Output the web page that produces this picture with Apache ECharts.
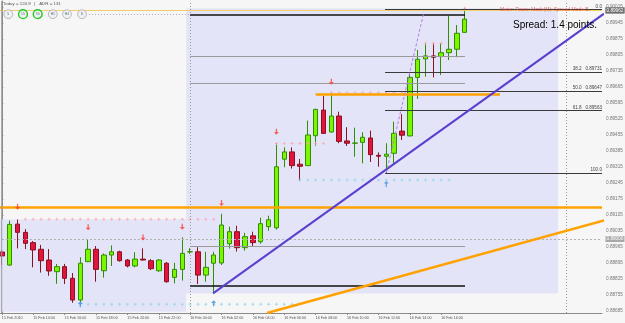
<!DOCTYPE html>
<html><head><meta charset="utf-8">
<script src="https://cdn.jsdelivr.net/npm/echarts@6/dist/echarts.min.js"></script>
<style>html,body{margin:0;padding:0;background:#f6f6f6}#c{width:625px;height:323px}</style>
</head><body><div id="c"></div>
<script>
// ---- data ----
const tickLabels = ["15 Feb 2010","15 Feb 14:00","15 Feb 16:00","15 Feb 18:00","15 Feb 20:00","15 Feb 22:00","16 Feb 00:00","16 Feb 02:00","16 Feb 04:00","16 Feb 06:00","16 Feb 08:00","16 Feb 10:00","16 Feb 12:00","16 Feb 14:00","16 Feb 16:00"];
const priceTicks = [0.88685,0.88755,0.88825,0.88895,0.88965,0.89035,0.89105,0.89175,0.89245,0.89315,0.89385,0.89455,0.89525,0.89595,0.89665,0.89735,0.89805,0.89875,0.89945,0.90015];
const slotCount = 77; // bars + chart shift
const opens  = [0.88943,0.88886,0.89065,0.89029,0.88984,0.88955,0.88908,0.88857,0.88879,0.88828,0.88733,0.88901,0.88955,0.88861,0.88930,0.88944,0.88908,0.88882,0.88912,0.88905,0.88861,0.88894,0.88832,0.88867,0.88944,0.88944,0.88842,0.88894,0.88895,0.88979,0.89032,0.88962,0.89014,0.88988,0.89054,0.89049,0.89349,0.89381,0.89327,0.89321,0.89452,0.89564,0.89468,0.89538,0.89429,0.89419,0.89423,0.89442,0.89366,0.89362,0.89375,0.89472,0.89451,0.89707,0.89788,0.89801,0.89798,0.89815,0.89830,0.89904];
const closes = [0.88926,0.89064,0.89029,0.88981,0.88952,0.88905,0.88860,0.88879,0.88828,0.88733,0.88894,0.88955,0.88867,0.88930,0.88944,0.88905,0.88882,0.88912,0.88908,0.88870,0.88908,0.88813,0.88867,0.88937,0.88944,0.88842,0.88876,0.88930,0.89061,0.89032,0.88962,0.89010,0.88984,0.89067,0.89084,0.89316,0.89381,0.89321,0.89318,0.89455,0.89567,0.89462,0.89538,0.89427,0.89419,0.89420,0.89445,0.89369,0.89362,0.89371,0.89462,0.89454,0.89707,0.89786,0.89801,0.89795,0.89815,0.89830,0.89900,0.89962];
const lows   = [0.88886,0.88882,0.88959,0.88956,0.88876,0.88853,0.88839,0.88804,0.88803,0.88721,0.88724,0.88899,0.88813,0.88831,0.88882,0.88901,0.88876,0.88876,0.88906,0.88864,0.88856,0.88809,0.88806,0.88818,0.88935,0.88803,0.88813,0.88762,0.88886,0.88958,0.88945,0.88949,0.88966,0.88979,0.89036,0.89041,0.89314,0.89308,0.89255,0.89319,0.89408,0.89460,0.89466,0.89419,0.89407,0.89360,0.89331,0.89337,0.89316,0.89289,0.89324,0.89433,0.89449,0.89613,0.89710,0.89707,0.89717,0.89783,0.89795,0.89903];
const highs  = [0.88952,0.89080,0.89085,0.89043,0.88991,0.88974,0.88956,0.88891,0.88891,0.88851,0.88920,0.89000,0.88969,0.88937,0.88972,0.88949,0.88912,0.88942,0.88959,0.88912,0.88912,0.88899,0.88896,0.89007,0.88960,0.88964,0.88944,0.88944,0.89110,0.89054,0.89058,0.89027,0.89032,0.89093,0.89102,0.89419,0.89401,0.89401,0.89350,0.89518,0.89570,0.89626,0.89640,0.89557,0.89489,0.89487,0.89467,0.89474,0.89379,0.89419,0.89513,0.89546,0.89725,0.89827,0.89856,0.89856,0.89856,0.89976,0.89936,0.90009];

const dayRanges = [ {from:-0.5, to:23.5, low:0.88682, high:0.89086}, {from:23.5, to:70.9, low:0.88762, high:0.90009} ];
const roundLevels = [0.89000, 0.89500, 0.90000];
const bidPrice = 0.89962;
const periodSeparators = [24, 72];
const blackLevels = [ {p:0.89980, from:24, to:59.04}, {p:0.88794, from:24, to:59.04} ];
const grayLevels  = [ {p:0.89801, from:24, to:59.04}, {p:0.89683, from:24, to:59.04}, {p:0.88969, from:24, to:59.04} ];
const dottedLevels = [ {p:0.89984, from:11.1, to:24} ];
const orangeLevels = [ {p:0.89141, from:-0.5, to:76.5}, {p:0.89634, from:40, to:63.5} ];
const fib = { high:0.90005, low:0.89289, from:48.85, to:76.5, ratios:[0, 38.2, 50, 61.8, 100] };
const purpleTrend = [[26.92, 0.88762], [76.76, 0.89986]];
const orangeTrend = [[33.8, 0.88676], [76.76, 0.89081]];
const violetDash  = [[49, 0.89289], [53.8, 0.89993]];
const resistDots = [ {level:0.89086, from:3, to:27}, {level:0.89418, from:35, to:41}, {level:0.89640, from:42, to:51}, {level:0.89856, from:54, to:56}, {level:0.90009, from:59, to:59} ];
const supportDots = [ {level:0.88714, from:10, to:37}, {level:0.89258, from:38, to:57} ];
const downArrows = [[2,0.89141],[11,0.89051],[18,0.89007],[23,0.89054],[28,0.89157],[35,0.89469],[42,0.89688]];
const upArrows = [[10,0.88714],[27,0.88719],[49,0.89241]];

// ---- build ----
const cats = Array.from({length:slotCount}, (_, i) => String(i));
const candles = opens.map((o, i) => [o, closes[i], lows[i], highs[i]]);
const isTick = i => i % 4 === 0 && i / 4 < tickLabels.length;
const FONT = 'Liberation Sans';
const dots = arr => { const out = []; arr.forEach(d => { for (let i = d.from; i <= d.to; i++) out.push([i, d.level]); }); return out; };
const seg = (l, style, label) => [ {coord:[l.from, l.p], lineStyle:style, label:label || {show:false}}, {coord:[l.to, l.p]} ];

const fibLines = fib.ratios.map(r => {
  const p = fib.high - r / 100 * (fib.high - fib.low);
  const txt = (r === 0 || r === 100) ? r.toFixed(1) : r.toFixed(1) + '   ' + p.toFixed(5);
  return seg({p, from:fib.from, to:fib.to}, {color:'#3a3a3a', width:1, type:'solid'},
    {show:true, position:'insideEndTop', formatter:txt, fontSize:4.6, color:'#444', fontFamily:FONT, distance:[0,0.5]});
});

const levelMarks = [].concat(
  blackLevels.map(l => seg(l, {color:'#111', width:1.6, type:'solid'})),
  grayLevels.map(l => seg(l, {color:'#9a9a9a', width:1, type:'solid'})),
  dottedLevels.map(l => seg(l, {color:'#aaa', width:1, type:[1,2]})),
  orangeLevels.map(l => seg(l, {color:'#ffa200', width:2.5, type:'solid'})),
  fibLines
);

const chart = echarts.init(document.getElementById('c'), null, {renderer:'canvas'});
const option = {
  animation:false,
  backgroundColor:'#f6f6f6',
  grid:{left:-2.07, top:1, width:604.07, height:312, containLabel:false, outerBoundsMode:'none'},
  xAxis:[
    {type:'category', data:cats, boundaryGap:true,
     axisLine:{lineStyle:{color:'#8a8a8a', width:1}},
     axisTick:{show:true, length:2, interval:(i)=>isTick(i), alignWithLabel:true, lineStyle:{color:'#8a8a8a'}},
     axisLabel:{interval:0, formatter:(v, i)=> isTick(i) ? tickLabels[i/4] : '', align:'left', fontSize:3.7, color:'#555', margin:2.5, fontFamily:FONT},
     splitLine:{show:false}},
    {type:'value', min:-0.5, max:slotCount-0.5, show:false}
  ],
  yAxis:{type:'value', position:'right', offset:2, min:0.886762, max:0.900412,
    axisLine:{show:true, lineStyle:{color:'#8a8a8a'}},
    axisTick:{show:true, length:1.5, customValues:priceTicks, lineStyle:{color:'#8a8a8a'}},
    axisLabel:{customValues:priceTicks, formatter:v=>v.toFixed(5), fontSize:4.7, color:'#777', margin:2, fontFamily:FONT},
    splitLine:{show:false}},
  graphic:[
    {type:'line', shape:{x1:1.7, y1:1, x2:1.7, y2:313}, style:{stroke:'#9a9a9a', lineWidth:1}, z:100},
    {type:'text', x:3, y:2.2, style:{text:'Today = 124.9   |   ADR = 131', font:'4.4px '+FONT, fill:'#555'}, z:100},
    ...[['5',8.3,'#aaa'],['15',23,'#1ec81e'],['30',37.7,'#1ec81e'],['H1',52.8,'#aaa'],['H4',67,'#aaa'],['D',82,'#aaa']].flatMap(b=>[
      {type:'circle', shape:{cx:b[1], cy:14.2, r:4.4}, style:{fill:'#f1f1f1', stroke:b[2], lineWidth:b[2]==='#aaa'?0.8:1.4}, z:100},
      {type:'text', x:b[1], y:14.4, style:{text:b[0], font:'3.4px '+FONT, fill:'#4a6a8a', align:'center', verticalAlign:'middle'}, z:101}
    ]),
    {type:'text', x:513, y:20.5, style:{text:'Spread: 1.4 points.', font:'10px '+FONT, fill:'#000'}, z:100},
    {type:'text', x:500, y:7.3, style:{text:'Meter: Pause Mode(M): Spread Mode B..', font:'5px '+FONT, fill:'rgba(220,60,60,0.75)'}, z:100}
  ],
  series:[
    {type:'line', xAxisIndex:1, data:[], z:1, silent:true,
     markArea:{silent:true, itemStyle:{color:'#e4e4f8'},
       data: dayRanges.map(r=>[{coord:[r.from, r.high]},{coord:[r.to, r.low]}])}},
    {type:'line', xAxisIndex:1, data:[], z:2, silent:true,
     markLine:{symbol:'none', silent:true, animation:false,
       data: [].concat(
         periodSeparators.map(x=>({xAxis:x, lineStyle:{color:'#999', width:1, type:[1,2]}, label:{show:false}})),
         roundLevels.map(p=>({yAxis:p, lineStyle:{color:'#b0b0b0', width:1, type:[2,2]},
           label:{show:true, position:'end', formatter:p.toFixed(5), fontSize:4.7, color:'#fff', backgroundColor:'#a8a8a8', padding:[0.5,1], distance:3.5, fontFamily:FONT}})),
         [{yAxis:bidPrice, lineStyle:{color:'#f2cf6a', width:1, type:'solid'},
           label:{show:true, position:'end', formatter:bidPrice.toFixed(5), fontSize:4.7, color:'#fff', backgroundColor:'#6e6e6e', padding:[0.5,1], distance:3.5, fontFamily:FONT}}],
         levelMarks)}},
    {type:'candlestick', xAxisIndex:0, data:candles, z:3, barWidth:5,
     itemStyle:{color:'#7cf500', color0:'#e0143c', borderColor:'#2f8f00', borderColor0:'#8b1020', borderWidth:1}},
    {type:'scatter', xAxisIndex:1, data:dots(resistDots), z:4, silent:true,
     symbol:'path://M1,0 L2,0 L2,1 L3,1 L3,2 L2,2 L2,3 L1,3 L1,2 L0,2 L0,1 L1,1 Z', symbolSize:3, itemStyle:{color:'#ffa3ad'}},
    {type:'scatter', xAxisIndex:1, data:dots(supportDots), z:4, silent:true,
     symbol:'path://M1,0 L2,0 L2,1 L3,1 L3,2 L2,2 L2,3 L1,3 L1,2 L0,2 L0,1 L1,1 Z', symbolSize:3, itemStyle:{color:'#8ed6e6'}},
    {type:'scatter', xAxisIndex:1, data:downArrows, z:5, silent:true,
     symbol:'path://M3,0 L5,0 L5,5 L8,5 L4,9 L0,5 L3,5 Z', symbolSize:[5,6], itemStyle:{color:'#ff3b30'}},
    {type:'scatter', xAxisIndex:1, data:upArrows, z:5, silent:true,
     symbol:'path://M4,0 L8,4 L5,4 L5,9 L3,9 L3,4 L0,4 Z', symbolSize:[5,6], itemStyle:{color:'#3a8ee6'}},
    {type:'line', xAxisIndex:1, data:purpleTrend, z:6, symbol:'none', silent:true, lineStyle:{color:'#5b3fd0', width:2}},
    {type:'line', xAxisIndex:1, data:orangeTrend, z:6, symbol:'none', silent:true, lineStyle:{color:'#ffa200', width:2.5}},
    {type:'line', xAxisIndex:1, data:violetDash, z:6, symbol:'none', silent:true, lineStyle:{color:'#b77be6', width:1, type:[3,2]}}
  ]
};
chart.setOption(option);
</script>
</body></html>
